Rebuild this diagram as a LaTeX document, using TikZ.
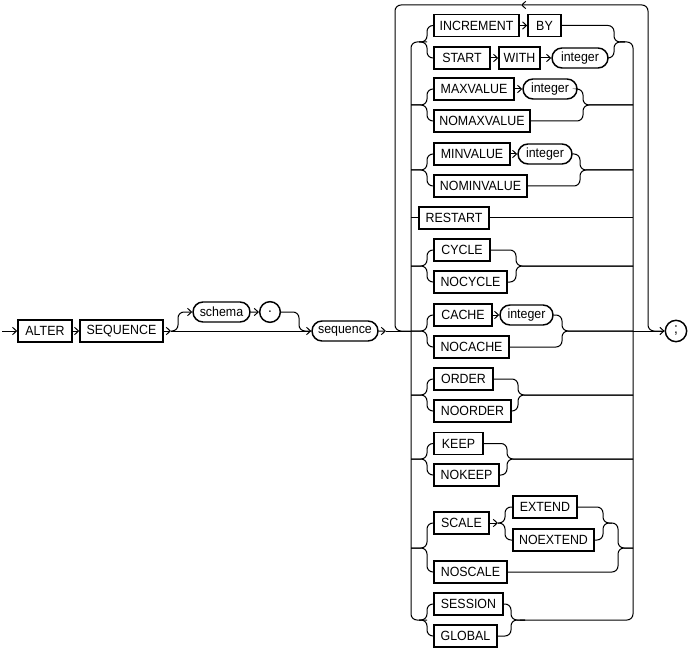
\documentclass[tikz,border=0pt]{standalone}
\usepackage{fontspec}
\setmainfont{Liberation Sans}[FakeStretch=0.93]
\usetikzlibrary{arrows.meta,shapes.misc}
\begin{document}
\begin{tikzpicture}[x=0.75pt,y=-0.75pt,
  kw/.style={draw, rectangle, line width=1.1pt, minimum height=16.5pt, inner sep=0pt, font=\fontsize{10}{11}\selectfont},
  var/.style={draw, rounded rectangle, line width=1.1pt, minimum height=15pt, inner sep=0pt, font=\fontsize{10}{11}\selectfont},
  circ/.style={draw, circle, line width=1.1pt, minimum size=15.5pt, inner sep=0pt, font=\fontsize{11}{12}\selectfont},
  wd/.style={minimum width=#1*0.75pt},
  ln/.style={line width=0.75pt, rounded corners=4.5pt},
  arr/.style={ln, -{Straight Barb[length=3pt,width=5.5pt]}},
]
\useasboundingbox (0,0) rectangle (689,649);
% ---- left part
\node[kw, wd=54] (alter) at (45,331) {ALTER};
\node[kw, wd=83] (seqkw) at (121.5,331) {SEQUENCE};
\node[var, wd=57] (schema) at (221.5,312) {schema};
\node[circ] (dot) at (270,312) {.};
\node[var, wd=66] (sequence) at (345,331) {sequence};
\node[circ, minimum size=16pt] (semi) at (676,331) {;};
% ---- options
\node[kw, wd=85] (increment) at (476.5,25.5) {INCREMENT};
\node[kw, wd=33] (by) at (544.5,25.5) {BY};
\node[kw, wd=56] (startkw) at (462,58) {START};
\node[kw, wd=41] (with) at (519.5,58) {WITH};
\node[var, wd=56] (int1) at (580,58) {integer};
\node[kw, wd=80] (maxv) at (474,89) {MAXVALUE};
\node[var, wd=54] (int2) at (550,89) {integer};
\node[kw, wd=96] (nomaxv) at (482,121) {NOMAXVALUE};
\node[kw, wd=76] (minv) at (472,154) {MINVALUE};
\node[var, wd=54] (int3) at (545,154) {integer};
\node[kw, wd=93] (nominv) at (480.5,186) {NOMINVALUE};
\node[kw, wd=70] (restart) at (454,218) {RESTART};
\node[kw, wd=56] (cycle) at (462,250) {CYCLE};
\node[kw, wd=73] (nocycle) at (470.5,282) {NOCYCLE};
\node[kw, wd=58] (cache) at (463,315) {CACHE};
\node[var, wd=53] (int4) at (526.5,315) {integer};
\node[kw, wd=75] (nocache) at (471.5,347) {NOCACHE};
\node[kw, wd=59] (order) at (463.5,379) {ORDER};
\node[kw, wd=77] (noorder) at (472.5,411) {NOORDER};
\node[kw, wd=49] (keep) at (458.5,443.5) {KEEP};
\node[kw, wd=65] (nokeep) at (466.5,475) {NOKEEP};
\node[kw, wd=55] (scale) at (461.5,523) {SCALE};
\node[kw, wd=64] (extend) at (545,507) {EXTEND};
\node[kw, wd=81] (noextend) at (553.5,540) {NOEXTEND};
\node[kw, wd=73] (noscale) at (470.5,572) {NOSCALE};
\node[kw, wd=69] (session) at (468.5,604) {SESSION};
\node[kw, wd=63] (global) at (465.5,636) {GLOBAL};
% ---- coordinates
\coordinate (start) at (2,331);
\coordinate (c1) at (171,331);
\coordinate (c2) at (386,331);
\coordinate (loopArr) at (521,5);
\coordinate (sc) at (498,523);
% ---- main line
\draw[arr] (start) -- (alter);
\draw[arr] (alter) -- (seqkw);
\draw[arr] (seqkw) -- (c1);
\draw[arr] (c1) -- (sequence);
\draw[arr] (c1) -- (178,331) -- (178,312) -- (schema);
\draw[arr] (schema) -- (dot);
\draw[ln] (dot) -- (299,312) -- (299,331) -- (sequence.west);
\draw[arr] (sequence) -- (c2);
\draw[ln] (c2) -- (411,331);
\draw[arr] (633,331) -- (semi);
% ---- outer loop
\draw[arr] (663,331) -- (648,331) -- (648,5) -- (loopArr);
\draw[ln] (loopArr) -- (395,5) -- (395,331) -- (411,331);
% ---- inner verticals
\draw[ln] (427,42) -- (411,42) -- (411,620) -- (427,620);
\draw[ln] (620,42) -- (633,42) -- (633,620) -- (520,620);
% ---- INCREMENT / START
\draw[ln] (419,42) -- (427,42) -- (427,25.5) -- (increment);
\draw[ln] (419,42) -- (427,42) -- (427,58) -- (startkw);
\draw[arr] (increment) -- (by);
\draw[arr] (startkw) -- (with);
\draw[arr] (with) -- (int1);
\draw[ln] (by) -- (614,25.5) -- (614,42) -- (625,42);
\draw[ln] (int1) -- (614,58) -- (614,42) -- (625,42);
% ---- MAXVALUE
\draw[ln] (411,105) -- (427,105) -- (427,89) -- (maxv);
\draw[ln] (411,105) -- (427,105) -- (427,121) -- (nomaxv);
\draw[arr] (maxv) -- (int2);
\draw[ln] (int2) -- (583,89) -- (583,105) -- (633,105);
\draw[ln] (nomaxv) -- (583,121) -- (583,105) -- (633,105);
% ---- MINVALUE
\draw[ln] (411,170) -- (427,170) -- (427,154) -- (minv);
\draw[ln] (411,170) -- (427,170) -- (427,186) -- (nominv);
\draw[arr] (minv) -- (int3);
\draw[ln] (int3) -- (580,154) -- (580,170) -- (633,170);
\draw[ln] (nominv) -- (580,186) -- (580,170) -- (633,170);
% ---- RESTART
\draw[ln] (411,218) -- (restart);
\draw[ln] (restart) -- (633,218);
% ---- CYCLE
\draw[ln] (411,266) -- (427,266) -- (427,250) -- (cycle);
\draw[ln] (411,266) -- (427,266) -- (427,282) -- (nocycle);
\draw[ln] (cycle) -- (516,250) -- (516,266) -- (633,266);
\draw[ln] (nocycle) -- (516,282) -- (516,266) -- (633,266);
% ---- CACHE
\draw[ln] (411,331) -- (427,331) -- (427,315) -- (cache);
\draw[ln] (411,331) -- (427,331) -- (427,347) -- (nocache);
\draw[arr] (cache) -- (int4);
\draw[ln] (int4) -- (562,315) -- (562,331) -- (633,331);
\draw[ln] (nocache) -- (562,347) -- (562,331) -- (633,331);
% ---- ORDER
\draw[ln] (411,395) -- (427,395) -- (427,379) -- (order);
\draw[ln] (411,395) -- (427,395) -- (427,411) -- (noorder);
\draw[ln] (order) -- (518,379) -- (518,395) -- (633,395);
\draw[ln] (noorder) -- (518,411) -- (518,395) -- (633,395);
% ---- KEEP
\draw[ln] (411,459) -- (427,459) -- (427,443.5) -- (keep);
\draw[ln] (411,459) -- (427,459) -- (427,475) -- (nokeep);
\draw[ln] (keep) -- (507,443.5) -- (507,459) -- (633,459);
\draw[ln] (nokeep) -- (507,475) -- (507,459) -- (633,459);
% ---- SCALE
\draw[ln] (411,548) -- (427,548) -- (427,523) -- (scale);
\draw[ln] (411,548) -- (427,548) -- (427,572) -- (noscale);
\draw[arr] (scale) -- (sc);
\draw[ln] (sc) -- (505,523) -- (505,507) -- (extend);
\draw[ln] (sc) -- (505,523) -- (505,540) -- (noextend);
\draw[ln] (extend) -- (603,507) -- (603,523) -- (618,523) -- (618,548) -- (633,548);
\draw[ln] (noextend) -- (603,540) -- (603,523) -- (612,523);
\draw[ln] (noscale) -- (618,572) -- (618,548) -- (633,548);
% ---- SESSION / GLOBAL
\draw[ln] (419,620) -- (427,620) -- (427,604) -- (session);
\draw[ln] (419,620) -- (427,620) -- (427,636) -- (global);
\draw[ln] (session) -- (511,604) -- (511,620) -- (525,620);
\draw[ln] (global) -- (511,636) -- (511,620) -- (525,620);
\end{tikzpicture}
\end{document}
